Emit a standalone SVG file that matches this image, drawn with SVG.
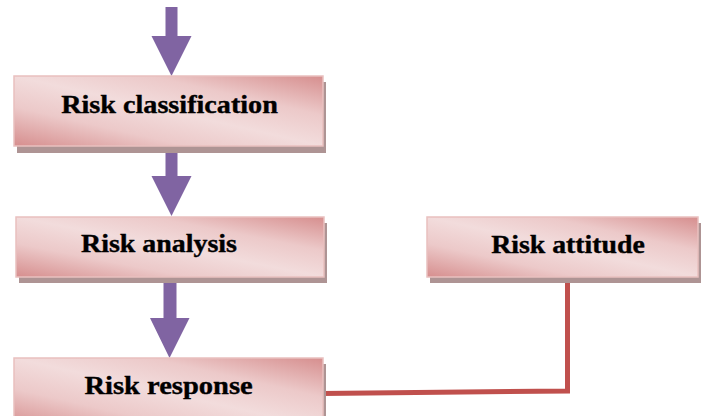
<svg xmlns="http://www.w3.org/2000/svg" width="702" height="416" viewBox="0 0 702 416">
  <defs>
    <linearGradient id="boxGrad" x1="0" y1="1" x2="1" y2="0">
      <stop offset="0" stop-color="#d68e8e"/>
      <stop offset="0.28" stop-color="#ecc9c9"/>
      <stop offset="0.5" stop-color="#f2dcdc"/>
      <stop offset="0.72" stop-color="#ecc9c9"/>
      <stop offset="1" stop-color="#d68e8e"/>
    </linearGradient>
  </defs>
  <style>
    .shadow { fill: #ae9494; }
    .box { fill: url(#boxGrad); stroke: #e9c0bf; stroke-width: 1.5; }
    .label { font-family: "Liberation Serif", "Times New Roman", serif; font-weight: bold; font-size: 24.5px; fill: #000; stroke: #000; stroke-width: 0.35; text-anchor: middle; }
    .arrow { fill: #8064a2; }
    .link { fill: none; stroke: #c0504d; stroke-width: 5; stroke-linejoin: miter; }
  </style>

  <g id="connectors">
    <polygon class="arrow" points="165.5,7 177.5,7 177.5,36 191.5,36 171.5,76 151.5,36 165.5,36"/>
    <polygon class="arrow" points="165.5,150 177.5,150 177.5,176 191.5,176 171.5,216 151.5,176 165.5,176"/>
    <polygon class="arrow" points="163.5,280 176.5,280 176.5,318 189.5,318 169.5,358 150,318 163.5,318"/>
    <path class="link" d="M322 393.5 L567.5 391 L567.5 281"/>
  </g>

  <g id="risk-classification">
    <rect class="shadow" x="17" y="82" width="309" height="71"/>
    <rect class="box" x="14" y="76" width="309" height="70"/>
    <text class="label" transform="translate(169.5,113) scale(1.15,1)">Risk classification</text>
  </g>

  <g id="risk-analysis">
    <rect class="shadow" x="19" y="223" width="308" height="60"/>
    <rect class="box" x="16" y="217" width="308" height="60"/>
    <text class="label" transform="translate(159,252) scale(1.14,1)">Risk analysis</text>
  </g>

  <g id="risk-attitude">
    <rect class="shadow" x="430" y="223" width="271" height="60"/>
    <rect class="box" x="427" y="217" width="271" height="60"/>
    <text class="label" transform="translate(568,253) scale(1.135,1)">Risk attitude</text>
  </g>

  <g id="risk-response">
    <rect class="shadow" x="17" y="364" width="309" height="70"/>
    <rect class="box" x="14" y="358" width="309" height="70"/>
    <text class="label" transform="translate(168.5,394) scale(1.165,1)">Risk response</text>
  </g>
</svg>
